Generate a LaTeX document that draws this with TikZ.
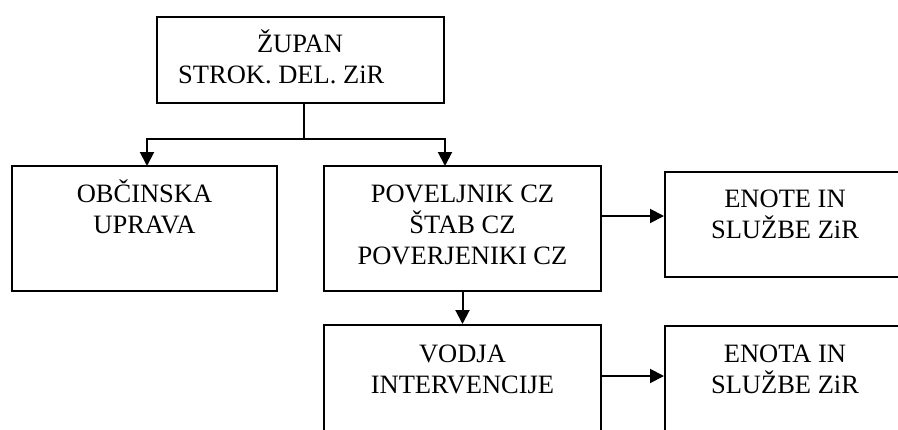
\documentclass[tikz,border=0pt]{standalone}
\usepackage{fontspec}
\setmainfont{Liberation Serif}
\usetikzlibrary{arrows.meta}
\begin{document}
\begin{tikzpicture}[x=1pt,y=-1pt,
  box/.style={draw,line width=2pt,rectangle,inner sep=0pt},
  txt/.style={inner sep=0pt,align=center,anchor=base,font=\fontsize{26.5}{31}\selectfont},
  conn/.style={line width=2pt},
  arr/.style={line width=2pt,-{Triangle[length=14pt,width=14pt]}}]
\useasboundingbox (0,0) rectangle (898,429);
\clip (0,0) rectangle (898,429);
\fill[white] (0,0) rectangle (898,429);
% boxes
\node[box,minimum width=287pt,minimum height=86pt] (top) at (300.5,60) {};
\node[box,minimum width=265pt,minimum height=125pt] (left) at (144.5,228.5) {};
\node[box,minimum width=277pt,minimum height=125pt] (mid) at (462.5,228.5) {};
\node[box,minimum width=240pt,minimum height=105pt] (right) at (785,224.5) {};
\node[box,minimum width=277pt,minimum height=140pt] (vodja) at (462.5,395) {};
\node[box,minimum width=240pt,minimum height=140pt] (rb) at (785,396) {};
% texts (anchor = baseline of the last line)
\node[txt] (t1) at (300,52) {ŽUPAN};
\node[txt,anchor=base west] (t2) at (178,83) {STROK. DEL. ZiR};
\node[txt] (t3) at (144.5,233) {OBČINSKA\\UPRAVA};
\node[txt] (t4) at (462.5,264) {POVELJNIK CZ\\ŠTAB CZ\\POVERJENIKI CZ};
\node[txt] (t5) at (785,238) {ENOTE IN\\SLUŽBE ZiR};
\node[txt] (t6) at (462.5,393) {VODJA\\INTERVENCIJE};
\node[txt] (t7) at (785,393) {ENOTA IN\\SLUŽBE ZiR};
% connectors
\coordinate (j) at (304,139);
\coordinate (a1) at (147,166);
\coordinate (a2) at (445,166);
\coordinate (m1) at (601,216);
\coordinate (v1) at (601,376);
\draw[conn] (top.south -| j) -- (j);
\draw[arr] (j) -| (a1);
\draw[arr] (j) -| (a2);
\draw[arr] (m1) -- (m1 -| right.west);
\draw[arr] (mid.south) -- (vodja.north);
\draw[arr] (v1) -- (v1 -| rb.west);
\end{tikzpicture}
\end{document}
